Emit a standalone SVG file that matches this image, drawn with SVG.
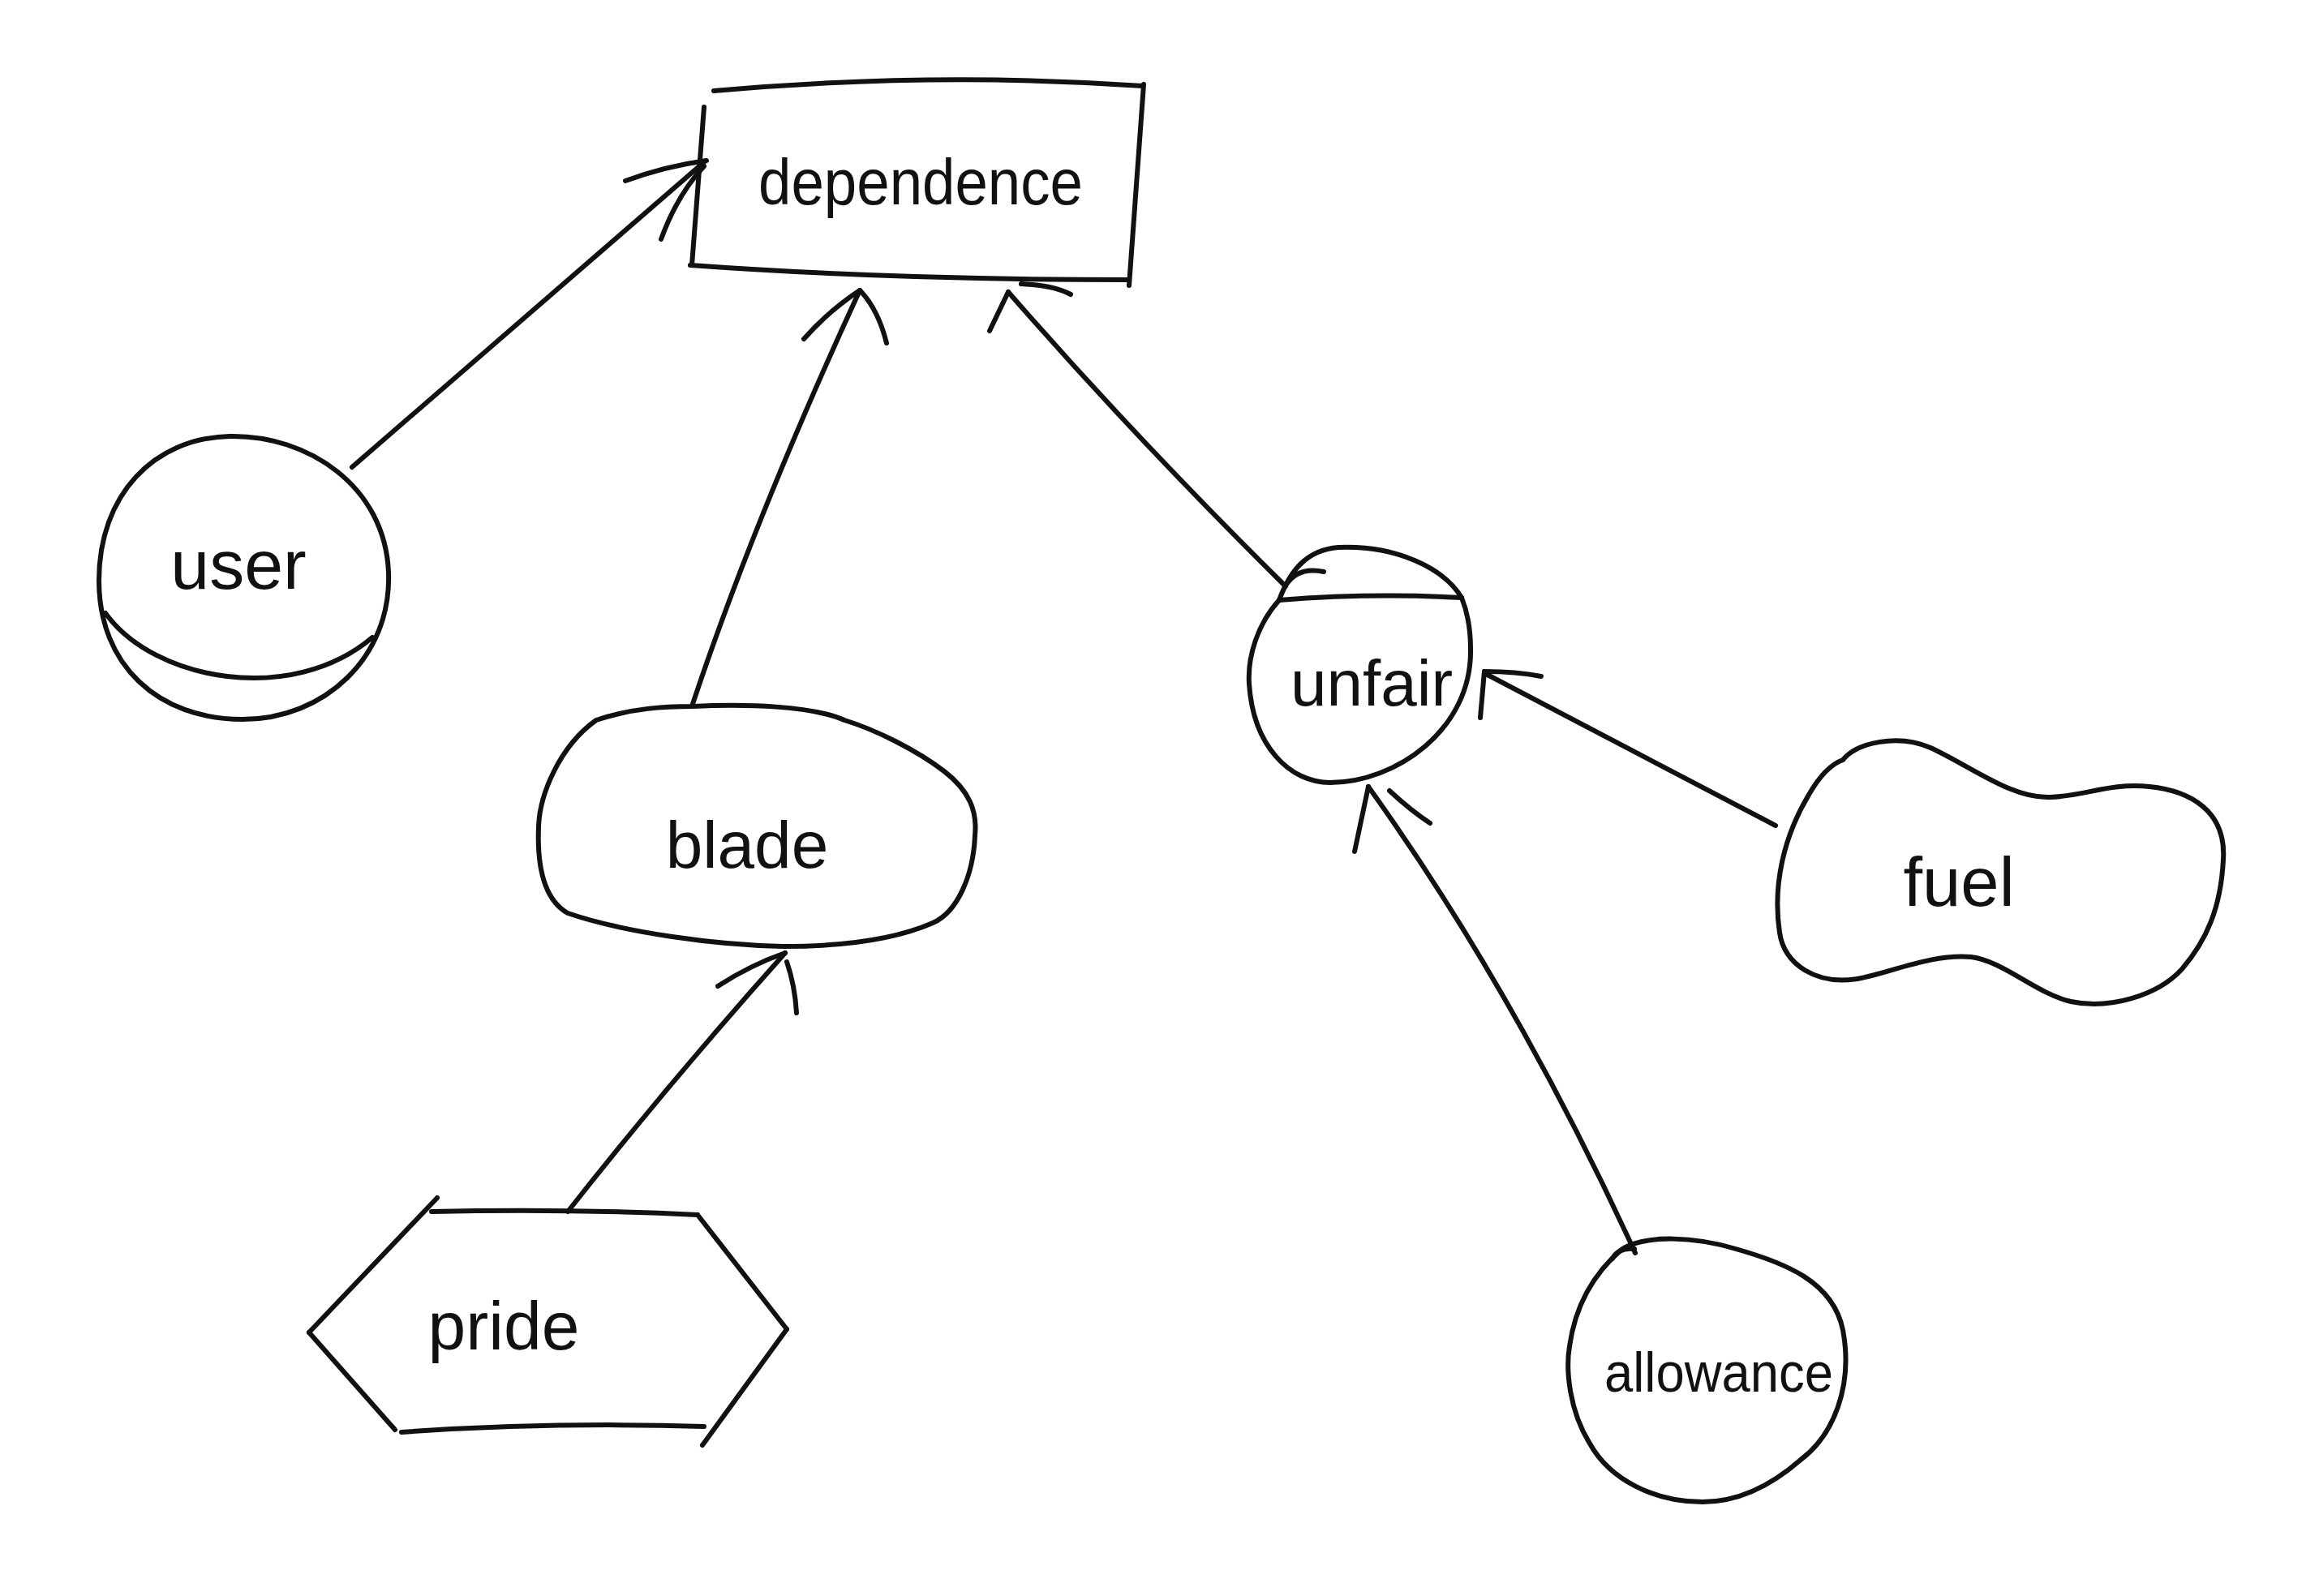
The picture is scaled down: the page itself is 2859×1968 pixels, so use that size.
<svg xmlns="http://www.w3.org/2000/svg" width="2859" height="1968" viewBox="0 0 2859 1968">
<style>
.s{fill:none;stroke:#111;stroke-width:6;stroke-linecap:round;stroke-linejoin:round}
.t{font-family:"Liberation Sans","DejaVu Sans",sans-serif;fill:#111;text-anchor:middle}
</style>
<rect width="2859" height="1968" fill="#fff"/>
<g id="connectors">
<path class="s" d="M 434 576 L 869 199"/>
<path class="s" d="M 771 223 Q 820 205 871 198"/>
<path class="s" d="M 815 295 Q 835 240 868 205"/>
<path class="s" d="M 854 868 Q 930 640 1060 358"/>
<path class="s" d="M 991 418 Q 1022 383 1060 358"/>
<path class="s" d="M 1062 360 Q 1083 383 1093 423"/>
<path class="s" d="M 1585 723 Q 1400 540 1243 360"/>
<path class="s" d="M 1243 360 L 1220 408"/>
<path class="s" d="M 1259 350 Q 1300 352 1320 363"/>
<path class="s" d="M 700 1494 Q 825 1335 968 1175"/>
<path class="s" d="M 885 1216 Q 925 1190 968 1175"/>
<path class="s" d="M 970 1186 Q 980 1215 982 1249"/>
<path class="s" d="M 2189 1018 L 1830 830"/>
<path class="s" d="M 1830 828 L 1825 885"/>
<path class="s" d="M 1830 828 Q 1870 828 1900 834"/>
<path class="s" d="M 2016 1545 Q 1869 1224 1687 970"/>
<path class="s" d="M 1687 970 L 1670 1050"/>
<path class="s" d="M 1713 975 Q 1740 1000 1763 1015"/>
</g>
<g id="node-dependence">
<path class="s" d="M 880 112 Q 1150 88 1409 106"/>
<path class="s" d="M 1410 104 L 1392 352"/>
<path class="s" d="M 851 327 Q 1100 345 1390 345"/>
<path class="s" d="M 868 132 L 853 327"/>
<text class="t" x="1135" y="252" font-size="80" textLength="400" lengthAdjust="spacingAndGlyphs">dependence</text>
</g>
<g id="node-user">
<path class="s" d="M 122 716 C 122 610 190 540 283 538 C 380 536 475 600 479 706 C 483 810 400 887 299 887 C 195 887 122 820 122 716 Z"/>
<path class="s" d="M 130 756 C 190 840 360 870 459 786"/>
<text class="t" x="294" y="726" font-size="86">user</text>
</g>
<g id="node-blade">
<path class="s" d="M 735 888 C 780 873 820 871 854 871 C 920 868 1000 870 1041 888 C 1080 900 1130 925 1164 951 C 1195 975 1205 1000 1202 1030 C 1200 1080 1180 1125 1150 1138 C 1100 1160 1030 1167 965 1167 C 880 1165 770 1150 700 1126 C 672 1110 662 1070 664 1020 C 665 980 690 920 735 888 Z"/>
<text class="t" x="921" y="1070" font-size="82">blade</text>
</g>
<g id="node-pride">
<path class="s" d="M 532 1494 Q 700 1490 860 1498"/>
<path class="s" d="M 860 1498 L 970 1639"/>
<path class="s" d="M 970 1639 L 866 1782"/>
<path class="s" d="M 495 1766 Q 680 1753 868 1759"/>
<path class="s" d="M 381 1643 L 487 1763"/>
<path class="s" d="M 539 1477 L 381 1643"/>
<text class="t" x="621" y="1664" font-size="84">pride</text>
</g>
<g id="node-unfair">
<path class="s" d="M 1577 740 C 1550 770 1538 810 1540 843 C 1545 920 1590 965 1640 965 C 1720 965 1815 900 1813 800 C 1813 775 1808 752 1802 737"/>
<path class="s" d="M 1577 740 C 1590 705 1610 678 1650 675 C 1720 672 1780 700 1802 737"/>
<path class="s" d="M 1577 740 Q 1690 731 1802 737"/>
<path class="s" d="M 1585 722 Q 1600 698 1632 705"/>
<text class="t" x="1691" y="870" font-size="80">unfair</text>
</g>
<g id="node-fuel">
<path class="s" d="M 2272 937 C 2290 915 2340 905 2380 922 C 2430 945 2480 985 2527 983 C 2570 982 2600 965 2650 970 C 2700 975 2745 1000 2741 1060 C 2738 1120 2720 1160 2690 1195 C 2660 1228 2600 1245 2553 1235 C 2510 1225 2470 1185 2430 1180 C 2380 1176 2330 1200 2290 1207 C 2240 1215 2200 1190 2194 1150 C 2185 1090 2200 1030 2230 980 Q 2250 945 2272 937 Z"/>
<text class="t" x="2415" y="1117" font-size="85">fuel</text>
</g>
<g id="node-allowance">
<path class="s" d="M 2000 1540 C 2030 1522 2090 1525 2140 1540 C 2200 1557 2260 1580 2272 1640 C 2285 1710 2260 1770 2220 1800 C 2180 1835 2140 1852 2099 1852 C 2040 1852 1985 1825 1960 1780 C 1935 1740 1930 1690 1935 1660 C 1942 1610 1965 1570 2000 1540 Z"/>
<path class="s" d="M 1988 1552 Q 1995 1538 2015 1540"/>
<text class="t" x="2119" y="1716" font-size="68" textLength="282" lengthAdjust="spacingAndGlyphs">allowance</text>
</g>
</svg>
